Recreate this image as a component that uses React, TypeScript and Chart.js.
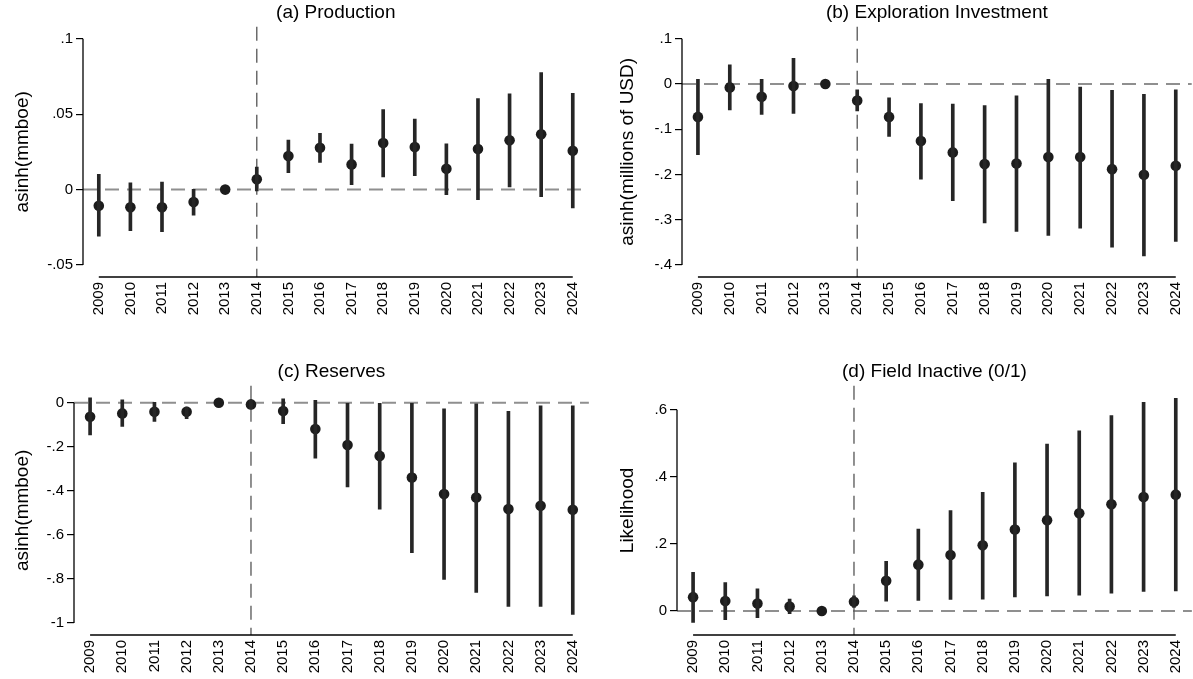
import React, { useEffect, useRef } from "react";
import { Chart, registerables } from "chart.js";

Chart.register(...registerables);

const FONT = "'Liberation Sans', Arial, Helvetica, sans-serif";

const years = [2009, 2010, 2011, 2012, 2013, 2014, 2015, 2016, 2017, 2018, 2019, 2020, 2021, 2022, 2023, 2024];
const eventYear = 2014;

// (a) Production
const prodCoef = [-0.0107, -0.0118, -0.0118, -0.0082, 0, 0.0069, 0.0222, 0.0278, 0.0167, 0.0309, 0.0282, 0.0138, 0.0269, 0.0327, 0.0367, 0.0258];
const prodHi = [0.0102, 0.0044, 0.0049, 0.0002, null, 0.0149, 0.0329, 0.0373, 0.0302, 0.0531, 0.0467, 0.0304, 0.0604, 0.0636, 0.0776, 0.0638];
const prodLo = [-0.0309, -0.0273, -0.028, -0.0169, null, -0.0009, 0.0113, 0.018, 0.0033, 0.0084, 0.0093, -0.0033, -0.0067, 0.0018, -0.0047, -0.0122];
const prodTicks = [-0.05, 0, 0.05, 0.1];

// (b) Exploration Investment
const explCoef = [-0.0726, -0.0074, -0.0281, -0.0044, 0, -0.0363, -0.0726, -0.1259, -0.1511, -0.177, -0.1756, -0.1615, -0.1615, -0.1881, -0.2007, -0.1807];
const explHi = [0.0104, 0.0422, 0.0104, 0.057, null, -0.0126, -0.0304, -0.043, -0.0444, -0.0474, -0.0259, 0.0104, -0.0067, -0.0141, -0.023, -0.0126];
const explLo = [-0.156, -0.057, -0.0674, -0.0652, null, -0.0593, -0.1156, -0.2104, -0.2578, -0.3067, -0.3259, -0.3348, -0.3185, -0.3607, -0.38, -0.3481];
const explTicks = [-0.4, -0.3, -0.2, -0.1, 0, 0.1];

// (c) Reserves
const resCoef = [-0.0633, -0.0483, -0.0407, -0.0407, 0, -0.0075, -0.0377, -0.119, -0.1916, -0.2413, -0.3394, -0.4148, -0.43, -0.4827, -0.4676, -0.4857];
const resHi = [0.0226, 0.0136, 0.0015, -0.0196, null, 0.0106, 0.018, 0.0106, 0.0, 0.0, 0.0, -0.0271, -0.0045, -0.0392, -0.0136, -0.0136];
const resLo = [-0.1463, -0.107, -0.0845, -0.0724, null, -0.027, -0.095, -0.252, -0.3816, -0.4827, -0.6802, -0.8024, -0.8612, -0.9246, -0.9246, -0.9608];
const resTicks = [-1, -0.8, -0.6, -0.4, -0.2, 0];

// (d) Field Inactive (0/1)
const inacCoef = [0.0415, 0.0297, 0.0227, 0.0138, 0, 0.0277, 0.09, 0.1384, 0.1671, 0.1958, 0.2432, 0.2709, 0.2916, 0.3183, 0.3401, 0.347];
const inacHi = [0.1157, 0.085, 0.0662, 0.0356, null, 0.0455, 0.1483, 0.2442, 0.2996, 0.3539, 0.4419, 0.4973, 0.5368, 0.5823, 0.6218, 0.6337];
const inacLo = [-0.0336, -0.0257, -0.0198, -0.0079, null, 0.0109, 0.0297, 0.0316, 0.0346, 0.0356, 0.0425, 0.0455, 0.0475, 0.0534, 0.0583, 0.0603];
const inacTicks = [0, 0.2, 0.4, 0.6];

type Spec = {
  title: string;
  yTitle: string;
  coef: number[];
  lo: (number | null)[];
  hi: (number | null)[];
  ticks: number[];
  yMin: number;
  yMax: number;
  left: number;
  top: number;
  w: number;
  h: number;
  yWidth: number;
  xHeight: number;
  padTop: number;
  padRight: number;
  yTitlePad: number;
};

const panels: Spec[] = [
  {
    title: "(a) Production", yTitle: "asinh(mmboe)",
    coef: prodCoef, lo: prodLo, hi: prodHi, ticks: prodTicks, yMin: -0.058, yMax: 0.108,
    left: 0, top: 0, w: 596, h: 340, yWidth: 83, xHeight: 63, padTop: 0, padRight: 5, yTitlePad: 11,
  },
  {
    title: "(b) Exploration Investment", yTitle: "asinh(millions of USD)",
    coef: explCoef, lo: explLo, hi: explHi, ticks: explTicks, yMin: -0.4265, yMax: 0.1265,
    left: 596, top: 0, w: 603, h: 340, yWidth: 86, xHeight: 63, padTop: 0, padRight: 0, yTitlePad: 20,
  },
  {
    title: "(c) Reserves", yTitle: "asinh(mmboe)",
    coef: resCoef, lo: resLo, hi: resHi, ticks: resTicks, yMin: -1.0543, yMax: 0.0769,
    left: 0, top: 340, w: 596, h: 339, yWidth: 74, xHeight: 44, padTop: 19, padRight: 5, yTitlePad: 11,
  },
  {
    title: "(d) Field Inactive (0/1)", yTitle: "Likelihood",
    coef: inacCoef, lo: inacLo, hi: inacHi, ticks: inacTicks, yMin: -0.0713, yMax: 0.6713,
    left: 596, top: 340, w: 603, h: 339, yWidth: 81, xHeight: 44, padTop: 19, padRight: 0, yTitlePad: 20,
  },
];

function fmt(v: number): string {
  if (Math.abs(v) < 1e-9) return "0";
  const s = String(parseFloat(v.toFixed(4)));
  return s.replace(/^(-?)0\./, "$1.");
}

const refLines = {
  id: "refLines",
  beforeDatasetsDraw(chart: any, _args: any, opts: any) {
    const { ctx, chartArea, scales } = chart;
    const x = scales.x;
    const y = scales.y;
    const ticks: number[] = opts.ticks;
    ctx.save();
    // zero reference line
    ctx.setLineDash([14, 8]);
    ctx.strokeStyle = "#8f8f8f";
    ctx.lineWidth = 2;
    const y0 = y.getPixelForValue(0);
    ctx.beginPath();
    ctx.moveTo(chartArea.left, y0);
    ctx.lineTo(chartArea.right, y0);
    ctx.stroke();
    // event year line
    ctx.strokeStyle = "#555555";
    ctx.lineWidth = 1.3;
    const xe = x.getPixelForValue(opts.event);
    ctx.beginPath();
    ctx.moveTo(xe, chartArea.top);
    ctx.lineTo(xe, chartArea.bottom);
    ctx.stroke();
    ctx.setLineDash([]);
    // axis lines
    ctx.strokeStyle = "#000";
    ctx.lineWidth = 1.3;
    const tMax = Math.max(...ticks);
    const tMin = Math.min(...ticks);
    ctx.beginPath();
    ctx.moveTo(chartArea.left, y.getPixelForValue(tMax));
    ctx.lineTo(chartArea.left, y.getPixelForValue(tMin));
    ctx.stroke();
    ctx.beginPath();
    ctx.moveTo(x.getPixelForValue(opts.first), chartArea.bottom);
    ctx.lineTo(x.getPixelForValue(opts.last), chartArea.bottom);
    ctx.stroke();
    ctx.restore();
  },
};

function Panel({ spec }: { spec: Spec }) {
  const ref = useRef<HTMLCanvasElement>(null);
  useEffect(() => {
    if (!ref.current) return;
    const ciData = years
      .map((yr, i) => ({ x: yr, lo: spec.lo[i], hi: spec.hi[i] }))
      .filter((d) => d.lo !== null && d.hi !== null)
      .map((d) => ({ x: d.x, y: [d.lo as number, d.hi as number] }));
    const ptData = years.map((yr, i) => ({ x: yr, y: spec.coef[i] }));
    const chart = new Chart(ref.current, {
      type: "scatter",
      data: {
        datasets: [
          {
            type: "bar",
            data: ciData as any,
            backgroundColor: "#262626",
            borderWidth: 0,
            borderSkipped: false,
            barThickness: 3,
          } as any,
          {
            type: "scatter",
            data: ptData,
            pointRadius: 5.3,
            pointBackgroundColor: "#1c1c1c",
            pointBorderWidth: 0,
            showLine: false,
          } as any,
        ],
      },
      options: {
        responsive: false,
        animation: false,
        events: [],
        layout: { padding: { top: spec.padTop, right: spec.padRight, left: 0, bottom: 0 } },
        scales: {
          x: {
            type: "linear",
            min: 2008.5,
            max: 2024.5,
            offset: false,
            afterBuildTicks: (scale: any) => {
              scale.ticks = years.map((v) => ({ value: v }));
            },
            afterFit: (scale: any) => {
              scale.height = spec.xHeight;
            },
            grid: { display: false, drawTicks: false },
            border: { display: false },
            ticks: {
              autoSkip: false,
              minRotation: 90,
              maxRotation: 90,
              padding: 5,
              color: "#000",
              font: { family: FONT, size: 15 },
              callback: (v: any) => String(v),
            },
          },
          y: {
            type: "linear",
            min: spec.yMin,
            max: spec.yMax,
            afterBuildTicks: (scale: any) => {
              scale.ticks = spec.ticks.map((v) => ({ value: v }));
            },
            afterFit: (scale: any) => {
              scale.width = spec.yWidth;
            },
            grid: { display: true, drawOnChartArea: false, drawTicks: true, tickLength: 7, color: "#000", lineWidth: 1.2 },
            border: { display: false },
            ticks: {
              padding: 3,
              color: "#000",
              font: { family: FONT, size: 15 },
              callback: (v: any) => fmt(Number(v)),
            },
            title: {
              display: true,
              text: spec.yTitle,
              color: "#000",
              font: { family: FONT, size: 19 },
              padding: { top: spec.yTitlePad, bottom: 0 },
            },
          },
        },
        plugins: {
          legend: { display: false },
          tooltip: { enabled: false },
          title: {
            display: true,
            text: spec.title,
            fullSize: false,
            color: "#000",
            font: { family: FONT, size: 19, weight: "normal" },
            padding: { top: 1, bottom: 3 },
          },
          refLines: { ticks: spec.ticks, event: eventYear, first: years[0], last: years[years.length - 1] },
        } as any,
      },
      plugins: [refLines],
    });
    return () => chart.destroy();
  }, [spec]);
  return (
    <canvas
      ref={ref}
      width={spec.w}
      height={spec.h}
      style={{ position: "absolute", left: spec.left, top: spec.top, width: spec.w, height: spec.h }}
    />
  );
}

export default function App() {
  return (
    <div
      style={{
        position: "fixed",
        left: 0,
        top: 0,
        width: 1193,
        height: 679,
        overflow: "hidden",
        background: "#fff",
      }}
    >
      {panels.map((p) => (
        <Panel key={p.title} spec={p} />
      ))}
    </div>
  );
}
